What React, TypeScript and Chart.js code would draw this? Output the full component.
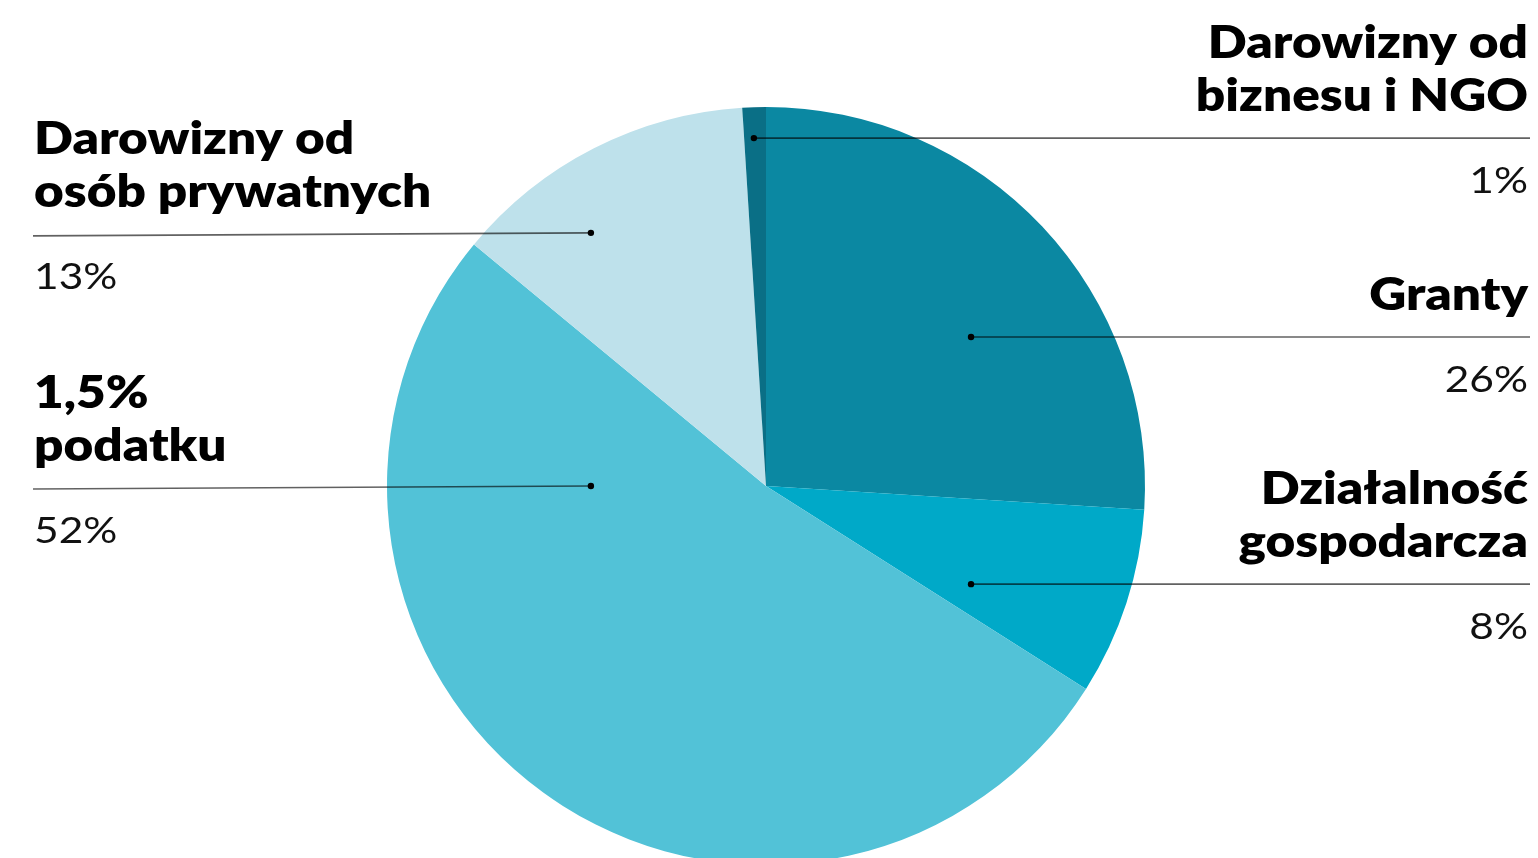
import React, { useEffect, useRef } from "react";
import { Chart, registerables } from "chart.js";

Chart.register(...registerables);

// Data
const categories: string[][] = [
  ["Granty"],
  ["Działalność", "gospodarcza"],
  ["1,5%", "podatku"],
  ["Darowizny od", "osób prywatnych"],
  ["Darowizny od", "biznesu i NGO"],
];
const values: number[] = [26, 8, 52, 13, 1];
const colors: string[] = ["#0b88a2", "#00a9c8", "#52c2d7", "#bee1eb", "#0a6f86"];

// Label layout: dot offset in units of pie radius, and side
const labelSide: ("left" | "right")[] = ["right", "right", "left", "left", "right"];
const dotFx: number[] = [0.541, 0.541, -0.462, -0.462, -0.032];
const dotFy: number[] = [-0.393, 0.259, 0.0, -0.668, -0.918];

function drawStretched(
  ctx: CanvasRenderingContext2D,
  text: string,
  x: number,
  y: number,
  right: boolean,
  sx: number
) {
  ctx.save();
  ctx.translate(x, y);
  ctx.scale(sx, 1);
  ctx.textAlign = right ? "right" : "left";
  ctx.fillText(text, 0, 0);
  ctx.restore();
}

const labelPlugin = {
  id: "leaderLabels",
  afterDraw(chart: any) {
    const ctx = chart.ctx as CanvasRenderingContext2D;
    const meta = chart.getDatasetMeta(0);
    const arc = meta.data[0] as any;
    if (!arc) return;
    const cx = arc.x;
    const cy = arc.y;
    const R = arc.outerRadius;
    const W = 1538;
    ctx.save();
    categories.forEach((lines, i) => {
      const dx = cx + dotFx[i] * R;
      const dy = cy + dotFy[i] * R;
      const right = labelSide[i] === "right";
      const lineEndX = right ? W - 8 : 33;
      const lineEndY = right ? dy : dy + 3;
      // leader line
      ctx.beginPath();
      ctx.moveTo(dx, dy);
      ctx.lineTo(lineEndX, lineEndY);
      ctx.strokeStyle = "rgba(0,0,0,0.62)";
      ctx.lineWidth = 1.6;
      ctx.stroke();
      // dot
      ctx.beginPath();
      ctx.arc(dx, dy, 3.2, 0, Math.PI * 2);
      ctx.fillStyle = "#000";
      ctx.fill();
      // name text
      const textX = right ? W - 10 : 34;
      const baseY = (dy + lineEndY) / 2;
      ctx.textBaseline = "alphabetic";
      ctx.fillStyle = "#000";
      ctx.font = "800 45px Lato, 'Noto Sans', sans-serif";
      const n = lines.length;
      lines.forEach((ln, k) => {
        const y = baseY - 27 - (n - 1 - k) * 53;
        drawStretched(ctx, ln, textX, y, right, 1.14);
      });
      // percent
      ctx.font = "400 36px Lato, 'Noto Sans', sans-serif";
      ctx.fillStyle = "#111";
      drawStretched(ctx, `${values[i]}%`, textX, baseY + 55, right, 1.18);
    });
    ctx.restore();
  },
};

export default function App() {
  const ref = useRef<HTMLCanvasElement | null>(null);
  useEffect(() => {
    if (!ref.current) return;
    const chart = new Chart(ref.current, {
      type: "pie",
      data: {
        labels: categories,
        datasets: [
          {
            data: values,
            backgroundColor: colors,
            borderWidth: 0,
          },
        ],
      },
      options: {
        animation: false,
        responsive: false,
        devicePixelRatio: 1,
        layout: { padding: { top: 107, bottom: 35, left: 387, right: 393 } },
        plugins: {
          legend: { display: false },
          tooltip: { enabled: false },
        },
      },
      plugins: [labelPlugin],
    });
    return () => chart.destroy();
  }, []);
  return (
    <div
      style={{
        position: "absolute",
        left: 0,
        top: 0,
        width: 1538,
        height: 858,
        overflow: "hidden",
        background: "#fff",
      }}
    >
      <canvas ref={ref} width={1538} height={900} style={{ display: "block" }} />
    </div>
  );
}
